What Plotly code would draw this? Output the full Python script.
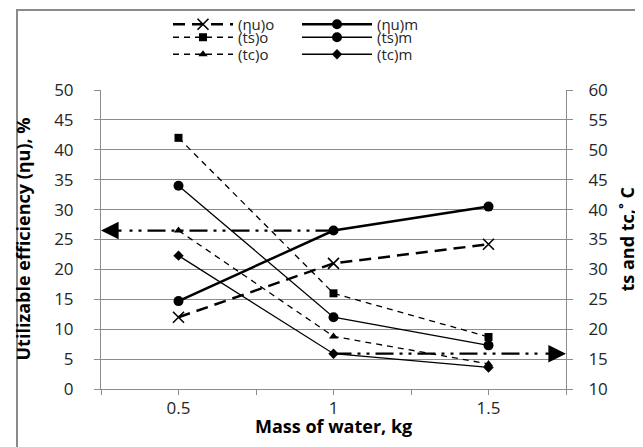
import plotly.graph_objects as go

# ---- data ----
mass = [0.5, 1, 1.5]
mass_labels = ["0.5", "1", "1.5"]
eta_o = [12.0, 21.0, 24.2]
eta_m = [14.7, 26.5, 30.5]
ts_o = [52.0, 26.0, 18.7]
ts_m = [44.0, 22.0, 17.3]
tc_o = [36.5, 18.8, 14.2]
tc_m = [32.3, 15.9, 13.6]

W, H = 643, 447
L, R, T, B = 93, 85, 82, 66
FONT = "Open Sans"
GRID = "#8c8c8c"
TXT = "#262626"

fig = go.Figure()

fig.add_trace(go.Scatter(x=mass, y=eta_o, name="(ηu)o", mode="lines+markers",
                         line=dict(color="black", width=2.5, dash="12px,7px"),
                         marker=dict(symbol="x-thin", size=11, line=dict(width=1.6, color="black")),
                         legend="legend"))
fig.add_trace(go.Scatter(x=mass, y=ts_o, name="(ts)o", mode="lines+markers", yaxis="y2",
                         line=dict(color="black", width=1.3, dash="6px,5px"),
                         marker=dict(symbol="square", size=8, color="black"),
                         legend="legend2"))
fig.add_trace(go.Scatter(x=mass, y=tc_o, name="(tc)o", mode="lines+markers", yaxis="y2",
                         line=dict(color="black", width=1.3, dash="6px,5px"),
                         marker=dict(symbol="triangle-up", size=8, color="black"),
                         legend="legend3"))
fig.add_trace(go.Scatter(x=mass, y=eta_m, name="(ηu)m", mode="lines+markers",
                         line=dict(color="black", width=2.5),
                         marker=dict(symbol="circle", size=10, color="black"),
                         legend="legend4"))
fig.add_trace(go.Scatter(x=mass, y=ts_m, name="(ts)m", mode="lines+markers", yaxis="y2",
                         line=dict(color="black", width=1.3),
                         marker=dict(symbol="circle", size=10, color="black"),
                         legend="legend5"))
fig.add_trace(go.Scatter(x=mass, y=tc_m, name="(tc)m", mode="lines+markers", yaxis="y2",
                         line=dict(color="black", width=1.3),
                         marker=dict(symbol="diamond", size=8, color="black"),
                         legend="legend6"))

xmin, xmax = 0.25, 1.75
dashdot = "18px,6px,3px,6px,3px,6px"

# guide lines with arrows (from data points to the axes)
fig.add_shape(type="line", xref="x", yref="y", x0=mass[1], y0=eta_m[1], x1=xmin + 0.08, y1=eta_m[1],
              line=dict(color="black", width=2.2, dash=dashdot))
fig.add_annotation(x=xmin, y=eta_m[1], xref="x", yref="y", ax=22, ay=0, text="",
                   showarrow=True, arrowhead=2, arrowsize=1.6, arrowwidth=2.2, arrowcolor="black")
fig.add_shape(type="line", xref="x", yref="y2", x0=mass[1], y0=tc_m[1], x1=xmax - 0.08, y1=tc_m[1],
              line=dict(color="black", width=2.2, dash=dashdot))
fig.add_annotation(x=xmax, y=tc_m[1], xref="x", yref="y2", ax=-22, ay=0, text="",
                   showarrow=True, arrowhead=2, arrowsize=1.6, arrowwidth=2.2, arrowcolor="black")

# pixel -> paper helpers
def px(x):
    return (x - L) / (W - L - R)

def py(y):
    return (H - B - y) / (H - T - B)

# chart border
fig.add_shape(type="rect", xref="paper", yref="paper", x0=px(9), x1=px(640), y0=py(440), y1=py(2),
              line=dict(color="#8a8a8a", width=2), layer="below")
fig.add_shape(type="line", xref="paper", yref="paper", x0=px(0), x1=px(643), y0=py(445), y1=py(445),
              line=dict(color="black", width=4))

# axis titles
TITLE_FONT = dict(size=18, color="black")
fig.add_annotation(xref="paper", yref="paper", x=px(14), y=0.5, text="<b>Utilizable efficiency (ηu), %</b>",
                   textangle=-90, showarrow=False, font=TITLE_FONT,
                   xanchor="center", yanchor="middle")
fig.add_annotation(xref="paper", yref="paper", x=px(618), y=0.5, text="<b>ts and tc,˚ C</b>",
                   textangle=-90, showarrow=False, font=TITLE_FONT,
                   xanchor="center", yanchor="middle")
fig.add_annotation(xref="paper", yref="paper", x=0.5, y=py(418), text="<b>Mass of water, kg</b>",
                   showarrow=False, font=TITLE_FONT,
                   xanchor="center", yanchor="middle")

leg_font = dict(size=15, color=TXT)
col_x = [160 / W, 289 / W]
col_w = [60, 70]
row_y = [0, 13, 30]
legends = {}
names = ["legend", "legend2", "legend3", "legend4", "legend5", "legend6"]
for i, nm in enumerate(names):
    c, r = divmod(i, 3)
    legends[nm] = dict(xref="container", yref="container", xanchor="left", yanchor="top",
                       bgcolor="rgba(0,0,0,0)", itemwidth=col_w[c], font=leg_font,
                       x=col_x[c], y=1 - row_y[r] / H)

fig.update_layout(
    width=W, height=H,
    margin=dict(l=L, r=R, t=T, b=B, autoexpand=False),
    paper_bgcolor="white", plot_bgcolor="white",
    font=dict(family=FONT, size=17, color=TXT),
    xaxis=dict(range=[xmin, xmax], tickvals=mass, ticktext=mass_labels,
               showgrid=False, zeroline=False, showline=True, linecolor=GRID, linewidth=1,
               ticks="", ticklabelstandoff=4,
               minor=dict(tick0=xmin, dtick=0.25, ticks="outside", ticklen=5, tickcolor=GRID),
               tickfont=dict(size=17)),
    yaxis=dict(range=[0, 50], dtick=5, showgrid=True, gridcolor=GRID, gridwidth=1,
               zeroline=False, showline=True, linecolor=GRID, ticks="outside", ticklen=6, tickcolor=GRID,
               ticklabelstandoff=17, tickfont=dict(size=17)),
    yaxis2=dict(range=[10, 60], dtick=5, overlaying="y", side="right", showgrid=False,
                zeroline=False, showline=True, linecolor=GRID, ticks="outside", ticklen=6, tickcolor=GRID,
                ticklabelstandoff=12, tickfont=dict(size=17)),
    showlegend=True,
    **legends,
)

fig.write_html("out.html")
